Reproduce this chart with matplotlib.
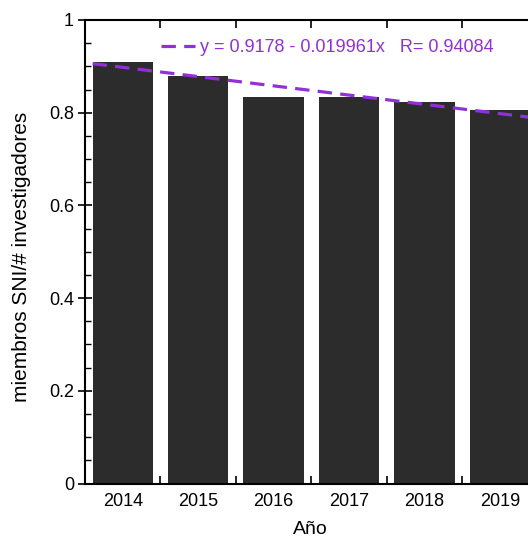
import matplotlib.pyplot as plt
import numpy as np
from matplotlib.ticker import MultipleLocator, FixedLocator

plt.rcParams['font.family'] = ['Liberation Sans', 'DejaVu Sans']

# SNI members per researcher, by year
years = [2014, 2015, 2016, 2017, 2018, 2019, 2020]
ratio = [0.910, 0.880, 0.833, 0.833, 0.822, 0.806, 0.782]

# linear fit, x counted from 2013 (2014 -> 1)
fit_a = 0.9178
fit_b = -0.019961
fit_r = 0.94084

y_ticks = [0, 0.2, 0.4, 0.6, 0.8, 1.0]
y_ticklabels = ['0', '0.2', '0.4', '0.6', '0.8', '1']

bar_color = '#2c2c2c'
fit_color = '#9130d8'

fig = plt.figure(figsize=(5.28, 5.37), dpi=100)
# the plot runs on past the right edge of the figure
ax = fig.add_axes([0.161, 0.0996, 1.0, 0.8632])

ax.bar(years, ratio, width=0.8, color=bar_color, zorder=2)

xf = np.array([years[0] - 0.4, years[-1] + 0.4])
yf = fit_a + fit_b * (xf - 2013)
ax.plot(xf, yf, color=fit_color, lw=2.3, dashes=(4.5, 2.6), zorder=3,
        label='y = %.4f - %.6fx   R= %.5f' % (fit_a, -fit_b, fit_r))

ax.set_xlim(years[0] - 0.5, years[-1] + 0.5)
ax.set_ylim(0, 1)

ax.set_xticks(years)
ax.xaxis.set_minor_locator(FixedLocator(np.arange(years[0] - 0.5, years[-1] + 1, 1.0)))
ax.yaxis.set_major_locator(FixedLocator(y_ticks))
ax.set_yticklabels(y_ticklabels)
ax.yaxis.set_minor_locator(MultipleLocator(0.05))

ax.tick_params(axis='x', which='major', length=0, pad=7, labelsize=13)
ax.tick_params(axis='x', which='minor', direction='in', length=6, width=1.2,
               top=True, bottom=True)
ax.tick_params(axis='y', which='major', direction='inout', length=10, width=1.2,
               pad=3, labelsize=13)
ax.tick_params(axis='y', which='minor', direction='in', length=4, width=1.0)
ax.tick_params(axis='y', which='both', right=False)

for s in ax.spines.values():
    s.set_linewidth(1.5)
    s.set_zorder(4)

ax.set_xlabel('Año', fontsize=14)
ax.xaxis.set_label_coords(0.426, -0.08)
ax.set_ylabel('miembros SNI/# investigadores', fontsize=15)
ax.yaxis.set_label_coords(-0.103, 0.49)

leg = ax.legend(loc='upper left', bbox_to_anchor=(0.13, 0.974), frameon=False,
                fontsize=13, handlelength=1.9, handletextpad=0.25,
                labelcolor='linecolor', borderaxespad=0)

fig.savefig('out.png', dpi=100)
